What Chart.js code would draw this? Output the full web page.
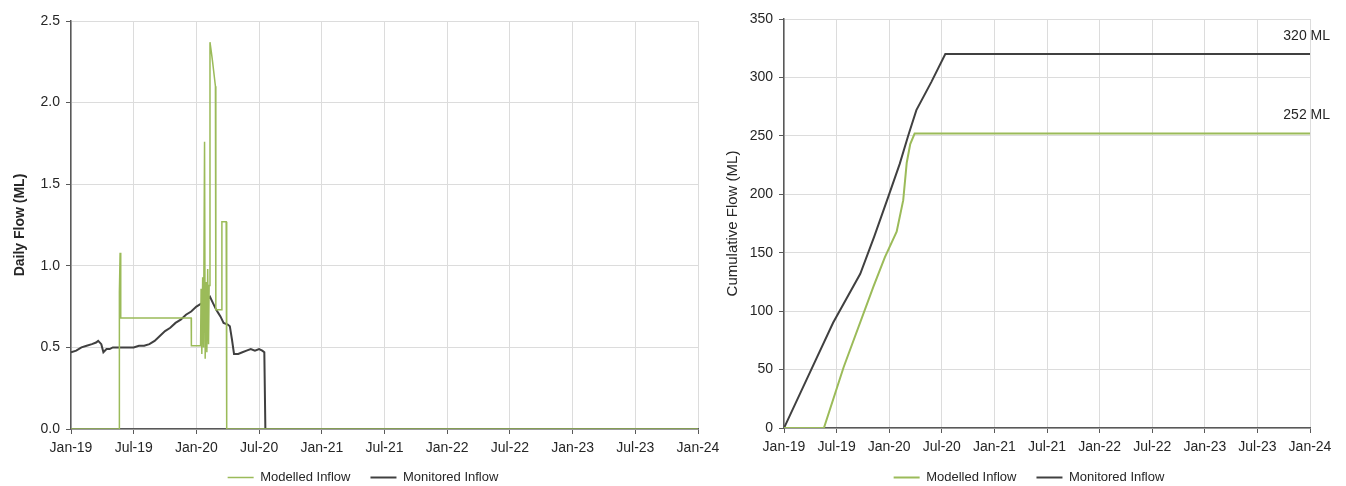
<!DOCTYPE html>
<html>
<head>
<meta charset="utf-8">
<title>Inflow</title>
<script src="https://cdn.jsdelivr.net/npm/chart.js@4.4.1/dist/chart.umd.min.js"></script>
<style>
  html, body { margin: 0; padding: 0; background: #fff; }
  body { width: 1346px; height: 486px; position: relative; overflow: hidden; }
  canvas { position: absolute; top: 0; }
  #dailyChart { left: 0; }
  #cumulChart { left: 712px; }
</style>
</head>
<body>
<canvas id="dailyChart" width="728" height="502"></canvas>
<canvas id="cumulChart" width="634" height="502"></canvas>
<script>
// x values are months since Jan-19
const tickLabels = ['Jan-19', 'Jul-19', 'Jan-20', 'Jul-20', 'Jan-21', 'Jul-21', 'Jan-22', 'Jul-22', 'Jan-23', 'Jul-23', 'Jan-24'];

// daily flow (ML)
const modelledDailyMonths = [0, 4.6, 4.6, 4.66, 4.7, 4.76, 11.5, 11.52, 12.4, 12.45, 12.52, 12.6, 12.68, 12.78, 12.84, 12.92, 13.0, 13.08, 13.16, 13.22, 13.3, 13.45, 13.55, 13.82, 13.86, 14.4, 14.44, 14.85, 14.9, 60];
const modelledDaily = [0, 0, 0.84, 0.84, 1.08, 0.68, 0.68, 0.51, 0.51, 0.86, 0.46, 0.93, 0.5, 1.76, 0.43, 0.9, 0.47, 0.98, 0.52, 0.88, 2.37, 2.3, 2.25, 2.1, 0.73, 0.73, 1.27, 1.27, 0, 0];

const monitoredDailyMonths = [0, 0.5, 1, 1.5, 2, 2.4, 2.6, 2.9, 3.1, 3.4, 3.7, 4, 4.5, 5, 5.5, 6, 6.5, 7, 7.5, 8, 8.5, 9, 9.5, 10, 10.5, 11, 11.5, 12, 12.5, 13, 13.3, 13.6, 13.9, 14.1, 14.3, 14.6, 15, 15.2, 15.4, 15.6, 16, 16.4, 16.8, 17.2, 17.6, 18, 18.3, 18.5, 18.6, 60];
const monitoredDaily = [0.47, 0.48, 0.5, 0.51, 0.52, 0.53, 0.54, 0.52, 0.47, 0.49, 0.49, 0.5, 0.5, 0.5, 0.5, 0.5, 0.51, 0.51, 0.52, 0.54, 0.57, 0.6, 0.62, 0.65, 0.67, 0.7, 0.72, 0.75, 0.77, 0.79, 0.81, 0.77, 0.73, 0.71, 0.69, 0.65, 0.64, 0.63, 0.55, 0.46, 0.46, 0.47, 0.48, 0.49, 0.48, 0.49, 0.48, 0.47, 0, 0];

// cumulative flow (ML)
const modelledCumulMonths = [0, 4.55, 6.8, 10.2, 11.5, 12.85, 13.6, 14.0, 14.4, 14.9, 60];
const modelledCumul = [0, 0, 52, 121, 146, 168, 195, 227, 243, 252, 252];

const monitoredCumulMonths = [0, 2.8, 5.6, 8.7, 10.3, 11.9, 13.2, 14.2, 15.1, 16.8, 18.4, 60];
const monitoredCumul = [0, 45, 90, 132, 164, 198, 226, 251, 272, 296, 320, 320];

const greenColor = '#9bbb59';
const darkColor = '#404040';
const gridColor = '#dcdcdc';
const axisColor = '#595959';
const textColor = '#262626';
const fontFamily = "'Liberation Sans', Arial, sans-serif";

Chart.defaults.font.family = fontFamily;

function toPoints(xs, ys) {
    return xs.map(function (x, i) { return { x: x, y: ys[i] }; });
}

function lineSet(label, xs, ys, color, width) {
    return {
        label: label,
        data: toPoints(xs, ys),
        borderColor: color,
        backgroundColor: color,
        borderWidth: width,
        pointRadius: 0,
        tension: 0,
        fill: false
    };
}

// nudges the legend box after layout so it sits under the plot like the rest of the report
function legendShift(dx, dy) {
    return {
        id: 'legendShift',
        afterLayout: function (chart) {
            const lg = chart.legend;
            if (!lg) return;
            lg.left += dx; lg.right += dx;
            lg.top += dy; lg.bottom += dy;
        }
    };
}

function makeOptions(cfg) {
    return {
        responsive: false,
        animation: false,
        layout: { padding: cfg.padding },
        plugins: {
            legend: {
                position: 'bottom',
                labels: {
                    usePointStyle: true,
                    pointStyle: 'line',
                    pointStyleWidth: 26,
                    color: textColor,
                    font: { size: 13 },
                    padding: 20
                }
            },
            tooltip: { enabled: false }
        },
        scales: {
            x: {
                type: 'linear',
                min: 0,
                max: 60,
                ticks: {
                    stepSize: 6,
                    autoSkip: false,
                    maxRotation: 0,
                    color: textColor,
                    font: { size: 14 },
                    padding: 6,
                    callback: function (v) { return tickLabels[Math.round(v / 6)]; }
                },
                grid: { color: gridColor, tickColor: axisColor, tickLength: 5 },
                border: { color: axisColor, width: 1.5 },
                afterFit: function (s) { s.height = cfg.xHeight; }
            },
            y: {
                min: 0,
                max: cfg.yMax,
                ticks: {
                    stepSize: cfg.yStep,
                    color: textColor,
                    font: { size: 14 },
                    padding: 6,
                    callback: cfg.yFormat
                },
                grid: { color: gridColor, tickColor: axisColor, tickLength: 5 },
                border: { color: axisColor, width: 1.5 },
                title: {
                    display: true,
                    text: cfg.yTitle,
                    color: textColor,
                    font: { size: cfg.titleSize, weight: cfg.titleWeight },
                    padding: { top: 4, bottom: 4 }
                },
                afterFit: function (s) { s.width = cfg.yWidth; }
            }
        }
    };
}

// writes "<value> ML" above the end of each cumulative line
const endLabelPlugin = {
    id: 'endLabels',
    afterDatasetsDraw: function (chart) {
        const ctx = chart.ctx;
        const xs = chart.scales.x;
        const ys = chart.scales.y;
        ctx.save();
        ctx.font = '14px ' + fontFamily;
        ctx.fillStyle = textColor;
        ctx.textAlign = 'right';
        ctx.textBaseline = 'middle';
        chart.data.datasets.forEach(function (ds) {
            const last = ds.data[ds.data.length - 1];
            ctx.fillText(last.y + ' ML', xs.getPixelForValue(last.x) + 20, ys.getPixelForValue(last.y) - 18);
        });
        ctx.restore();
    }
};

new Chart(document.getElementById('dailyChart'), {
    type: 'line',
    data: {
        datasets: [
            lineSet('Modelled Inflow', modelledDailyMonths, modelledDaily, greenColor, 1.5),
            lineSet('Monitored Inflow', monitoredDailyMonths, monitoredDaily, darkColor, 2)
        ]
    },
    options: makeOptions({
        padding: { left: 8, top: 21, right: 30, bottom: 0 },
        xHeight: 30,
        yWidth: 63,
        yMax: 2.5,
        yStep: 0.5,
        yFormat: function (v) { return v.toFixed(1); },
        yTitle: 'Daily Flow (ML)',
        titleSize: 14,
        titleWeight: 'bold'
    }),
    plugins: [legendShift(10, -8)]
});

new Chart(document.getElementById('cumulChart'), {
    type: 'line',
    data: {
        datasets: [
            lineSet('Modelled Inflow', modelledCumulMonths, modelledCumul, greenColor, 2),
            lineSet('Monitored Inflow', monitoredCumulMonths, monitoredCumul, darkColor, 2)
        ]
    },
    options: makeOptions({
        padding: { left: 8, top: 19, right: 36, bottom: 0 },
        xHeight: 31,
        yWidth: 64,
        yMax: 350,
        yStep: 50,
        yFormat: function (v) { return v; },
        yTitle: 'Cumulative Flow (ML)',
        titleSize: 15,
        titleWeight: 'normal'
    }),
    plugins: [endLabelPlugin, legendShift(14, -8)]
});
</script>
</body>
</html>
